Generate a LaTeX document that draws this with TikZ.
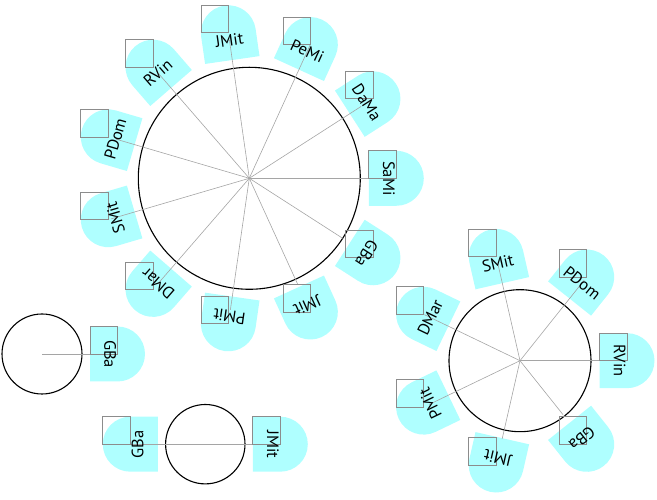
\documentclass[tikz,border=0pt]{standalone}
\usepackage{fontspec}
\setmainfont{PT Sans}
\usetikzlibrary{calc}
\pgfdeclarelayer{bg}
\pgfsetlayers{bg,main}
\definecolor{tabcyan}{RGB}{175,255,255}
\definecolor{spokegray}{RGB}{165,165,165}
\definecolor{boxgray}{RGB}{140,140,140}
\tikzset{
  tab/.style={fill=tabcyan},
  spoke/.style={draw=spokegray, line width=0.6pt},
  box/.style={draw=boxgray, line width=0.7pt},
  lab/.style={anchor=north, inner sep=1.2pt, font=\fontsize{16.5}{16.5}\selectfont},
  ring/.style={draw=black, line width=1.1pt}
}
\newcommand\wheelnode[6]{%
  \coordinate (#2) at ($(#1)+(#3:#4pt)$);
  \coordinate (#2e) at ($(#1)+(#3:#5pt)$);
  \begin{pgfonlayer}{bg}
    \fill[tab, shift={(#2)}, rotate=#3-90] (-27.5,-27.5) -- (27.5,-27.5) -- (27.5,0)
      arc[start angle=0, end angle=180, radius=27.5pt] -- cycle;
  \end{pgfonlayer}
  \draw[spoke] (#1) -- (#2e);
  \draw[box] (#2) rectangle ++(-27.5,27.5);
  \node[lab, rotate=#3-90] (#2t) at (#2) {#6};
}
\begin{document}
\begin{tikzpicture}[x=1pt,y=1pt]
\useasboundingbox (0,0) rectangle (657,500);
% centres
\coordinate (c1) at (249.3,321.7);
\coordinate (c2) at (42,146);
\coordinate (c3) at (520,139.3);
\coordinate (c4) at (205.3,55.8);
\draw[ring] (c1) circle[radius=111pt];
\draw[ring] (c2) circle[radius=40pt];
\draw[ring] (c3) circle[radius=71pt];
\draw[ring] (c4) circle[radius=39.7pt];
% wheel 1
\wheelnode{c1}{a1}{0}{147}{120}{SaMi}
\wheelnode{c1}{a2}{32.727}{147}{133}{DaMa}
\wheelnode{c1}{a3}{65.455}{147}{147}{PeMi}
\wheelnode{c1}{a4}{98.182}{147}{140}{JMit}
\wheelnode{c1}{a5}{130.909}{147}{142}{RVin}
\wheelnode{c1}{a6}{163.636}{147}{139}{PDom}
\wheelnode{c1}{a7}{196.364}{147}{144}{SMit}
\wheelnode{c1}{a8}{229.091}{147}{140}{DMar}
\wheelnode{c1}{a9}{261.818}{147}{133}{PMit}
\wheelnode{c1}{a10}{294.545}{147}{116}{JMit}
\wheelnode{c1}{a11}{327.273}{147}{111}{GBa}
% wheel 2
\wheelnode{c2}{b1}{0}{75.5}{75.5}{GBa}
% wheel 3
\wheelnode{c3}{d1}{0}{107}{107}{RVin}
\wheelnode{c3}{d2}{51.429}{107}{103}{PDom}
\wheelnode{c3}{d3}{102.857}{107}{100}{SMit}
\wheelnode{c3}{d4}{154.286}{107}{106}{DMar}
\wheelnode{c3}{d5}{205.714}{107}{101}{PMit}
\wheelnode{c3}{d6}{257.143}{107}{80}{JMit}
\wheelnode{c3}{d7}{308.571}{107}{69}{GBa}
% wheel 4
\wheelnode{c4}{f1}{0}{75}{75}{JMit}
\wheelnode{c4}{f2}{180}{75}{103}{GBa}
\end{tikzpicture}
\end{document}
